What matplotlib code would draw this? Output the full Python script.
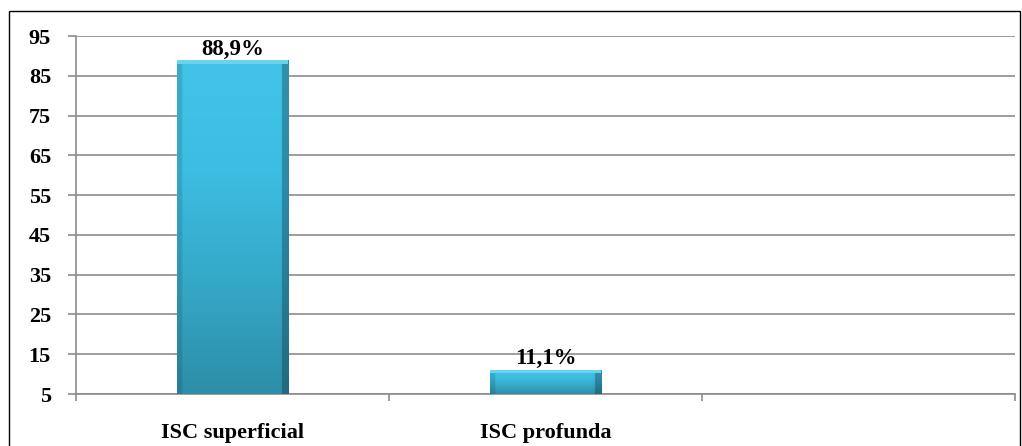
import numpy as np
import matplotlib.pyplot as plt
from matplotlib.patches import Rectangle
from matplotlib.colors import LinearSegmentedColormap

categories = ['ISC superficial', 'ISC profunda', '']
values = [88.9, 11.1, None]
value_labels = ['88,9%', '11,1%', '']
yticks = [5, 15, 25, 35, 45, 55, 65, 75, 85, 95]

plt.rcParams['font.family'] = ['Liberation Serif', 'DejaVu Serif']
plt.rcParams['font.weight'] = 'bold'

fig = plt.figure(figsize=(10.22, 4.46), dpi=100)
ax = fig.add_axes([76 / 1022, 1 - 394 / 446, (1015 - 76) / 1022, (394 - 36) / 446])

# outer frame around the whole chart
fig.patches.append(Rectangle((9 / 1022, -0.01), (1020 - 9) / 1022, (446 - 11) / 446 + 0.01,
                             transform=fig.transFigure, fill=False, edgecolor='black', lw=1.0))

ymin, ymax = 5, 95
x = np.arange(len(categories))
heights = [v if v is not None else 0 for v in values]
bars = ax.bar(x, heights, width=0.355, color='#3bbbe0', edgecolor='none', zorder=3)

# vertical shading: light cyan at the top, darker teal at the bottom
cmap = LinearSegmentedColormap.from_list('bar', ['#2d8ea8', '#35a8c7', '#3cbde2', '#42c4e8'])
grad = np.linspace(0, 1, 256).reshape(-1, 1)
# soft bevel on the sides, a bit darker on the right
side = np.zeros((1, 64))
side[0, :3] = 0.12
side[0, -4:] = 0.28
side_cmap = LinearSegmentedColormap.from_list('side', [(0, 0, 0, 0), (0.05, 0.2, 0.3, 1)])
for b, v in zip(bars, values):
    if v is None:
        continue
    x0, w = b.get_x(), b.get_width()
    img = ax.imshow(grad, extent=(x0, x0 + w, ymin, v), origin='lower', cmap=cmap,
                    aspect='auto', zorder=3)
    img.set_clip_path(b)
    shade = ax.imshow(side, extent=(x0, x0 + w, ymin, v), cmap=side_cmap,
                      vmin=0, vmax=1, aspect='auto', zorder=4)
    shade.set_clip_path(b)
    # lighter bevel along the top edge
    ax.add_patch(Rectangle((x0, v - 0.9), w, 0.9, color='#6ad3ee', lw=0, zorder=4))
    b.set_visible(False)

for xi, v, lab in zip(x, values, value_labels):
    if v is None:
        continue
    ax.text(xi, v + 0.2, lab, ha='center', va='bottom', fontsize=16.5, fontweight='bold', zorder=5)

ax.set_xlim(-0.5, len(categories) - 0.5)
ax.set_ylim(ymin, ymax)
ax.set_yticks(yticks)
ax.set_yticklabels([str(t) for t in yticks], fontsize=16, fontweight='bold')
ax.yaxis.grid(True, color='#8c8c8c', lw=1.2, zorder=0)
ax.tick_params(axis='y', length=6, color='#8c8c8c', width=1.2, pad=12)

# category labels centred under each slot, ticks on the slot boundaries
ax.set_xticks(np.arange(len(categories) + 1) - 0.5)
ax.set_xticklabels([])
ax.set_xticks(x, minor=True)
ax.set_xticklabels(categories, minor=True, fontsize=16, fontweight='bold')
ax.tick_params(axis='x', which='major', length=5, color='#8c8c8c', width=1.2, direction='out')
ax.tick_params(axis='x', which='minor', length=0, pad=21)

for s in ['top', 'right']:
    ax.spines[s].set_visible(False)
for s in ['left', 'bottom']:
    ax.spines[s].set_color('#8c8c8c')
    ax.spines[s].set_linewidth(1.2)

fig.savefig('out.png', dpi=100)
